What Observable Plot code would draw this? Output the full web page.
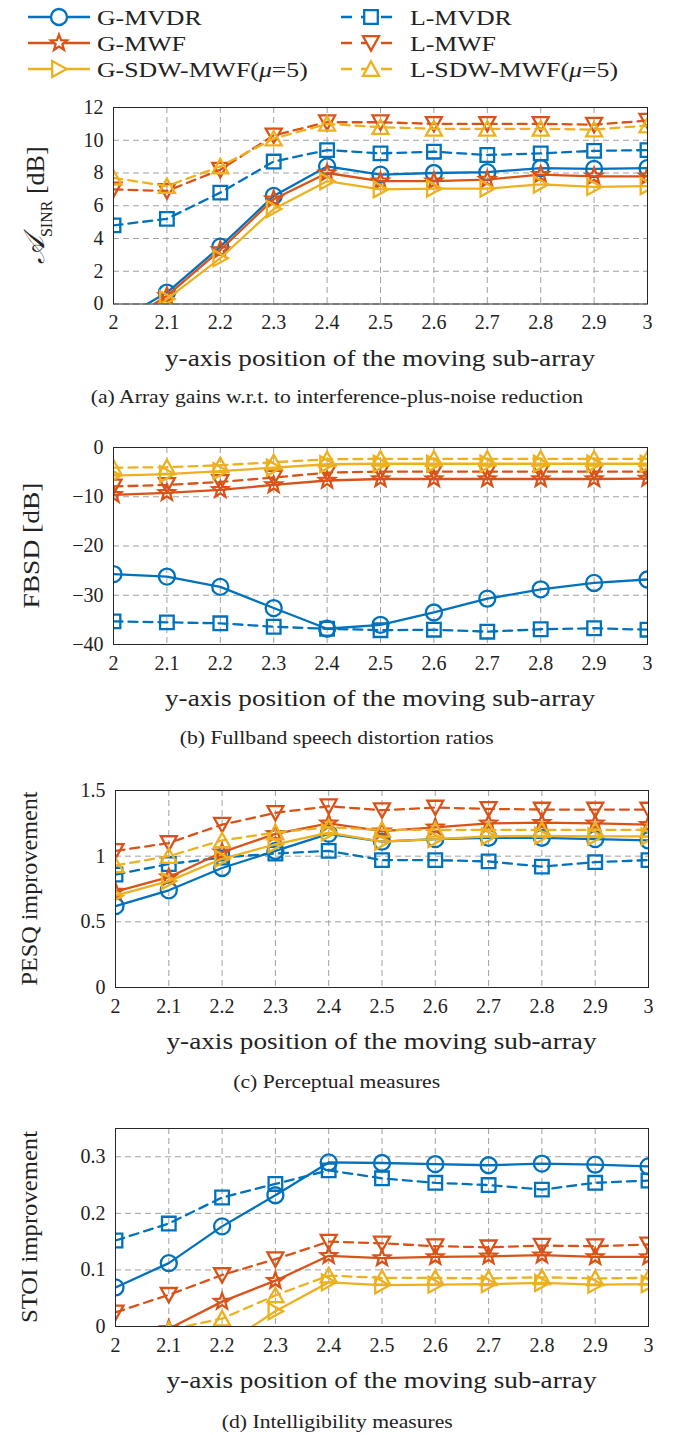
<!DOCTYPE html>
<html><head><meta charset="utf-8">
<script src="https://cdn.jsdelivr.net/npm/d3@7"></script>
<script src="https://cdn.jsdelivr.net/npm/@observablehq/plot@0.6"></script>
<style>
html,body{margin:0;padding:0;background:#fff;}
#root{position:relative;width:674px;height:1435px;overflow:hidden;font-family:"Liberation Serif","Times New Roman",serif;color:#222;}
.caption{position:absolute;left:0;width:674px;text-align:center;font-size:19px;line-height:20px;color:#222;}
.caption span{display:inline-block;transform:scaleX(1.14);transform-origin:center;white-space:nowrap;}
#legend{position:absolute;left:0;top:0;}
</style></head><body><div id="root"></div>
<script>
// ---------- data ----------
const xPositions = [2, 2.1, 2.2, 2.3, 2.4, 2.5, 2.6, 2.7, 2.8, 2.9, 3];
const xTickLabels = ["2", "2.1", "2.2", "2.3", "2.4", "2.5", "2.6", "2.7", "2.8", "2.9", "3"];
const xAxisLabel = "y-axis position of the moving sub-array";

const seriesNames = ["G-MVDR", "L-MVDR", "G-MWF", "L-MWF", "G-SDW-MWF(μ=5)", "L-SDW-MWF(μ=5)"];
const seriesColors = ["#0072BD", "#0072BD", "#D95319", "#D95319", "#EDB120", "#EDB120"];
const seriesDashed = [false, true, false, true, false, true];
const seriesSymbols = ["circle", "square", "star", "triangleDown", "triangleRight", "triangleUp"];

// (a) Array gain A_SINR [dB]
const asinrGMvdr = [-1.2, 0.7, 3.5, 6.6, 8.4, 7.9, 8.0, 8.05, 8.3, 8.25, 8.3];
const asinrLMvdr = [4.8, 5.2, 6.8, 8.7, 9.4, 9.2, 9.3, 9.1, 9.2, 9.35, 9.4];
const asinrGMwf  = [-1.6, 0.5, 3.3, 6.4, 8.0, 7.5, 7.5, 7.6, 7.9, 7.8, 7.8];
const asinrLMwf  = [7.0, 6.9, 8.2, 10.3, 11.1, 11.1, 11.0, 11.0, 11.0, 10.95, 11.2];
const asinrGSdw  = [-2.4, 0.3, 2.8, 5.8, 7.5, 7.0, 7.05, 7.05, 7.3, 7.15, 7.2];
const asinrLSdw  = [7.7, 7.2, 8.4, 10.1, 11.0, 10.8, 10.7, 10.7, 10.7, 10.65, 10.9];
const asinrTicks = [0, 2, 4, 6, 8, 10, 12];
const asinrTickLabels = ["0", "2", "4", "6", "8", "10", "12"];

// (b) FBSD [dB]
const fbsdGMvdr = [-25.7, -26.2, -28.3, -32.6, -36.8, -36.0, -33.5, -30.7, -28.8, -27.5, -26.8];
const fbsdLMvdr = [-35.3, -35.5, -35.7, -36.4, -36.8, -37.1, -37.0, -37.4, -36.9, -36.7, -37.0];
const fbsdGMwf  = [-9.6, -9.2, -8.6, -7.6, -6.7, -6.4, -6.4, -6.4, -6.4, -6.4, -6.3];
const fbsdLMwf  = [-7.9, -7.6, -7.0, -6.1, -5.1, -4.9, -4.9, -4.9, -4.9, -4.9, -4.9];
const fbsdGSdw  = [-5.7, -5.4, -4.8, -4.1, -3.4, -3.3, -3.3, -3.3, -3.3, -3.3, -3.3];
const fbsdLSdw  = [-4.1, -4.0, -3.6, -3.0, -2.4, -2.3, -2.3, -2.3, -2.3, -2.3, -2.3];
const fbsdTicks = [-40, -30, -20, -10, 0];
const fbsdTickLabels = ["\u221240", "\u221230", "\u221220", "\u221210", "0"];

// (c) PESQ improvement
const pesqGMvdr = [0.62, 0.74, 0.91, 1.04, 1.17, 1.11, 1.13, 1.14, 1.14, 1.13, 1.12];
const pesqLMvdr = [0.86, 0.94, 0.99, 1.02, 1.04, 0.97, 0.97, 0.96, 0.92, 0.955, 0.97];
const pesqGMwf  = [0.73, 0.84, 1.03, 1.17, 1.25, 1.19, 1.22, 1.25, 1.255, 1.25, 1.24];
const pesqLMwf  = [1.04, 1.1, 1.24, 1.33, 1.38, 1.35, 1.37, 1.36, 1.355, 1.355, 1.355];
const pesqGSdw  = [0.70, 0.81, 0.98, 1.09, 1.18, 1.11, 1.13, 1.15, 1.155, 1.15, 1.15];
const pesqLSdw  = [0.93, 1.0, 1.12, 1.18, 1.22, 1.2, 1.2, 1.2, 1.2, 1.2, 1.2];
const pesqTicks = [0, 0.5, 1, 1.5];
const pesqTickLabels = ["0", "0.5", "1", "1.5"];

// (d) STOI improvement
const stoiGMvdr = [0.069, 0.112, 0.177, 0.232, 0.29, 0.289, 0.287, 0.285, 0.288, 0.286, 0.283];
const stoiLMvdr = [0.152, 0.182, 0.228, 0.252, 0.276, 0.262, 0.254, 0.25, 0.242, 0.254, 0.258];
const stoiGMwf  = [-0.05, -0.004, 0.044, 0.081, 0.125, 0.121, 0.123, 0.124, 0.126, 0.123, 0.123];
const stoiLMwf  = [0.025, 0.056, 0.091, 0.119, 0.15, 0.147, 0.142, 0.14, 0.143, 0.142, 0.145];
const stoiGSdw  = [-0.12, -0.075, -0.035, 0.027, 0.078, 0.073, 0.074, 0.075, 0.077, 0.074, 0.075];
const stoiLSdw  = [-0.04, -0.006, 0.014, 0.055, 0.09, 0.086, 0.086, 0.085, 0.087, 0.085, 0.086];
const stoiTicks = [0, 0.1, 0.2, 0.3];
const stoiTickLabels = ["0", "0.1", "0.2", "0.3"];

const captions = [
  "(a) Array gains w.r.t. to interference-plus-noise reduction",
  "(b) Fullband speech distortion ratios",
  "(c) Perceptual measures",
  "(d) Intelligibility measures"
];

// ---------- symbols ----------
function rOf(size) { return Math.sqrt(size / Math.PI); }
const symbolTypes = {
  circle: "circle",
  square: {draw(ctx, size) { const h = rOf(size) * 0.85; ctx.moveTo(-h, -h); ctx.lineTo(h, -h); ctx.lineTo(h, h); ctx.lineTo(-h, h); ctx.closePath(); }},
  star: {draw(ctx, size) {
    const R = rOf(size) * 1.05, ri = R * 0.42;
    for (let i = 0; i < 10; i++) {
      const a = -Math.PI / 2 + i * Math.PI / 5, rr = i % 2 ? ri : R;
      const px = rr * Math.cos(a), py = rr * Math.sin(a);
      if (i) ctx.lineTo(px, py); else ctx.moveTo(px, py);
    }
    ctx.closePath();
  }},
  triangleDown: {draw(ctx, size) { const r = rOf(size); ctx.moveTo(-r, -0.85 * r); ctx.lineTo(r, -0.85 * r); ctx.lineTo(0, 0.95 * r); ctx.closePath(); }},
  triangleUp: {draw(ctx, size) { const r = rOf(size); ctx.moveTo(-r, 0.85 * r); ctx.lineTo(r, 0.85 * r); ctx.lineTo(0, -0.95 * r); ctx.closePath(); }},
  triangleRight: {draw(ctx, size) { const r = rOf(size); ctx.moveTo(-0.85 * r, -r); ctx.lineTo(-0.85 * r, r); ctx.lineTo(0.95 * r, 0); ctx.closePath(); }}
};
const markerR = 8;
const dashPattern = "9,6";
const lineW = 2.3;
const fontStack = '"Liberation Serif","Times New Roman",serif';

// ---------- legend ----------
const root = document.getElementById("root");
(function legend() {
  const svg = d3.create("svg").attr("width", 674).attr("height", 92).attr("id", "legend")
    .style("font-family", fontStack);
  const cols = [{x1: 28, x2: 90, tx: 97}, {x1: 341, x2: 401, tx: 410}];
  const rowsY = [17, 43, 69];
  seriesNames.forEach((name, i) => {
    const c = cols[i % 2], y = rowsY[Math.floor(i / 2)];
    const g = svg.append("g");
    g.append("line").attr("x1", c.x1).attr("x2", c.x2).attr("y1", y).attr("y2", y)
      .attr("stroke", seriesColors[i]).attr("stroke-width", lineW)
      .attr("stroke-dasharray", seriesDashed[i] ? "11,9" : null);
    const sym = symbolTypes[seriesSymbols[i]];
    const p = d3.symbol(sym === "circle" ? d3.symbolCircle : sym, Math.PI * markerR * markerR)();
    g.append("path").attr("d", p).attr("transform", `translate(${(c.x1 + c.x2) / 2},${y})`)
      .attr("fill", "white").attr("stroke", seriesColors[i]).attr("stroke-width", lineW);
    const t = g.append("text").attr("transform", `translate(${c.tx},${y}) scale(1.2,1)`).attr("dy", "0.35em")
      .attr("font-size", 21.5).attr("fill", "#222");
    const m = name.match(/^(.*\()μ(=5\))$/);
    if (m) {
      t.append("tspan").text(m[1]);
      t.append("tspan").attr("font-style", "italic").text("μ");
      t.append("tspan").text(m[2]);
    } else t.text(name);
  });
  root.appendChild(svg.node());
})();

// ---------- panels ----------
const panels = [
  {series: [asinrGMvdr, asinrLMvdr, asinrGMwf, asinrLMwf, asinrGSdw, asinrLSdw], domain: [0, 12], ticks: asinrTicks, tickLabels: asinrTickLabels,
   frame: {l: 113, t: 107, r: 647, b: 303.5}, ylabel: null, ylabelX: 36, captionY: 387},
  {series: [fbsdGMvdr, fbsdLMvdr, fbsdGMwf, fbsdLMwf, fbsdGSdw, fbsdLSdw], domain: [-40, 0], ticks: fbsdTicks, tickLabels: fbsdTickLabels,
   frame: {l: 113, t: 447, r: 647, b: 644}, ylabel: "FBSD [dB]", ylabelLen: 126, ylabelX: 31, captionY: 728},
  {series: [pesqGMvdr, pesqLMvdr, pesqGMwf, pesqLMwf, pesqGSdw, pesqLSdw], domain: [0, 1.5], ticks: pesqTicks, tickLabels: pesqTickLabels,
   frame: {l: 115, t: 790, r: 648, b: 987}, ylabel: "PESQ improvement", ylabelLen: 194, ylabelX: 29, captionY: 1072},
  {series: [stoiGMvdr, stoiLMvdr, stoiGMwf, stoiLMwf, stoiGSdw, stoiLSdw], domain: [0, 0.35], ticks: stoiTicks, tickLabels: stoiTickLabels,
   frame: {l: 115, t: 1128, r: 648, b: 1326}, ylabel: "STOI improvement", ylabelLen: 192, ylabelX: 29, captionY: 1412}
];

panels.forEach((P, pi) => {
  const mt = 12, mb = 80;
  const fh = P.frame.b - P.frame.t;
  const height = mt + fh + mb;
  const marks = [
    Plot.gridX(xPositions, {stroke: "#a0a0a0", strokeOpacity: 1, strokeWidth: 1, strokeDasharray: "6,4"}),
    Plot.gridY(P.ticks, {stroke: "#a0a0a0", strokeOpacity: 1, strokeWidth: 1, strokeDasharray: "6,4"})
  ];
  P.series.forEach((vals, si) => {
    const data = xPositions.map((x, k) => ({x, y: vals[k]}));
    marks.push(Plot.line(data, {x: "x", y: "y", stroke: seriesColors[si], strokeWidth: lineW,
      strokeDasharray: seriesDashed[si] ? dashPattern : null, clip: true}));
    marks.push(Plot.dot(data, {x: "x", y: "y", r: markerR, symbol: symbolTypes[seriesSymbols[si]],
      stroke: seriesColors[si], strokeWidth: lineW, fill: "none", clip: true}));
  });
  marks.push(Plot.frame({stroke: "#262626", strokeWidth: 1}));
  marks.push(Plot.axisX(xPositions, {tickSize: 0, tickPadding: 11, fontSize: 20, label: null,
    tickFormat: d => xTickLabels[xPositions.indexOf(d)]}));
  marks.push(Plot.axisY(P.ticks, {tickSize: 0, tickPadding: 10, fontSize: 20, label: null,
    tickFormat: d => P.tickLabels[P.ticks.indexOf(d)]}));
  const chart = Plot.plot({
    width: 674, height,
    marginTop: mt, marginBottom: mb, marginLeft: P.frame.l, marginRight: 674 - P.frame.r,
    style: {fontFamily: fontStack, color: "#222", overflow: "visible"},
    x: {domain: [2, 3]},
    y: {domain: P.domain},
    marks
  });
  const svg = d3.select(chart);
  // x-axis label
  svg.append("text")
    .attr("x", (P.frame.l + P.frame.r) / 2).attr("y", mt + fh + 54).attr("dy", "0.35em")
    .attr("text-anchor", "middle").attr("font-size", 24).attr("fill", "#222")
    .attr("textLength", 430).attr("lengthAdjust", "spacingAndGlyphs")
    .text(xAxisLabel);
  // y-axis label
  const cy = mt + fh / 2;
  const t = svg.append("text")
    .attr("transform", `translate(${P.ylabelX},${cy}) rotate(-90)`)
    .attr("text-anchor", "middle").attr("dy", "0.35em")
    .attr("font-size", 24).attr("fill", "#222");
  if (!P.ylabel) {
    t.append("tspan").attr("font-style", "italic").attr("font-size", 29).text("𝒜");
    t.append("tspan").attr("font-size", 16).attr("dy", "0.45em").text("SINR");
    t.append("tspan").attr("font-size", 26).attr("dy", "-0.3em").text(" [dB]");
  } else {
    t.attr("textLength", P.ylabelLen).attr("lengthAdjust", "spacingAndGlyphs").text(P.ylabel);
  }
  chart.style.position = "absolute";
  chart.style.left = "0px";
  chart.style.top = (P.frame.t - mt) + "px";
  root.appendChild(chart);
  const cap = document.createElement("div");
  cap.className = "caption";
  cap.style.top = P.captionY + "px";
  const span = document.createElement("span");
  span.textContent = captions[pi];
  cap.appendChild(span);
  root.appendChild(cap);
});
</script></body></html>
